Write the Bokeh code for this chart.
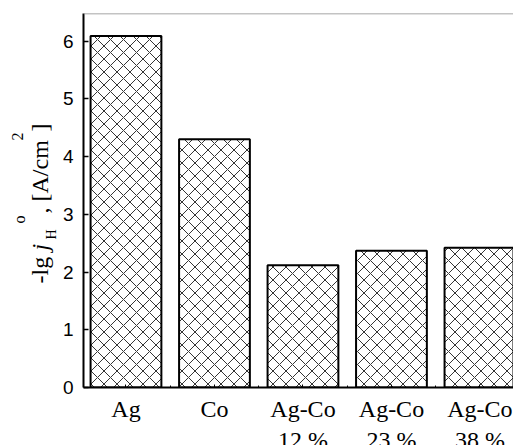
import math
from bokeh.plotting import figure
from bokeh.layouts import row, column
from bokeh.models import Range1d, FixedTicker, Span
from bokeh.core.properties import value
from bokeh.embed import file_html
from bokeh.resources import INLINE

# ---- data ----
categories = ["Ag", "Co", "Ag-Co", "Ag-Co", "Ag-Co"]
subcategories = ["", "", "12 %", "23 %", "38 %"]
values = [6.09, 4.30, 2.12, 2.37, 2.42]
y_ticks = [0, 1, 2, 3, 4, 5, 6]

positions = list(range(len(values)))
SERIF = "Liberation Serif"
SANS = "Liberation Sans"


def bare(fig):
    fig.outline_line_color = None
    fig.xgrid.visible = False
    fig.ygrid.visible = False
    fig.background_fill_color = None
    fig.border_fill_color = None
    return fig


# ---- main chart ----
p = figure(width=455, height=428, output_backend="svg", toolbar_location=None,
           x_range=Range1d(-0.48, 4.379), y_range=Range1d(0, 6.48),
           min_border_left=25, min_border_right=0, min_border_top=13,
           min_border_bottom=41)
p.outline_line_color = None
p.xgrid.visible = False
p.ygrid.visible = False

p.vbar(x=positions, top=values, width=0.8, bottom=0,
       fill_color="white", line_color="black", line_width=2,
       hatch_pattern="x", hatch_scale=13, hatch_weight=1, hatch_color="#333333")

p.add_layout(Span(location=6.48, dimension="width", line_color="#888888", line_width=1.5))

xa = p.xaxis[0]
xa.ticker = FixedTicker(ticks=positions, minor_ticks=[i + 0.5 for i in positions[:-1]])
xa.major_label_overrides = {i: c for i, c in zip(positions, categories)}
xa.major_tick_in = 3
xa.major_tick_out = 0
xa.minor_tick_in = 2
xa.minor_tick_out = 0
xa.axis_line_width = 2
xa.axis_line_color = "black"
xa.major_tick_line_color = "black"
xa.major_label_standoff = 8
xa.major_label_text_font = SERIF
xa.major_label_text_font_size = "24px"
xa.major_label_text_color = "black"

ya = p.yaxis[0]
ya.ticker = FixedTicker(ticks=y_ticks)
ya.major_tick_in = 5
ya.major_tick_out = 0
ya.minor_tick_line_color = None
ya.axis_line_width = 2
ya.axis_line_color = "black"
ya.major_tick_line_width = 1.5
ya.major_label_standoff = 10
ya.major_label_text_font = SANS
ya.major_label_text_font_size = "19px"
ya.major_label_text_color = "black"

# ---- y-axis title strip: -lg j_H^o, [A/cm^2] ----
# the row aligns this strip's frame with the chart's frame (page y 13..387),
# so the y range is expressed in page pixels over that span
t = bare(figure(width=58, height=428, output_backend="svg", toolbar_location=None,
                x_range=Range1d(0, 58), y_range=Range1d(387, 13),
                min_border=0, x_axis_location=None, y_axis_location=None))

BASE_SHIFT = 0.365  # Bokeh places the alphabetic baseline this many em below the anchor


def piece(text, baseline_x, y, size, style="normal"):
    t.text(x=[baseline_x - BASE_SHIFT * size], y=[y], text=[text], angle=math.pi / 2,
           text_align="left", text_baseline="alphabetic",
           text_font=value(SERIF), text_font_size=f"{size}px",
           text_font_style=style, text_color="black")


piece("-lg ", 48, 283, 24)
piece("j", 48, 250, 24, "italic")
piece("H", 56, 239, 14)
piece("o", 25, 223, 16)
piece(", [A/cm", 48, 213, 24)
piece("2", 23, 140, 16)
piece("]", 48, 131, 24)

# ---- second line of category labels ----
b = bare(figure(width=513, height=17, output_backend="svg", toolbar_location=None,
                x_range=p.x_range, y_range=Range1d(17, 0),
                min_border_left=83, min_border_right=0, min_border_top=0,
                min_border_bottom=0, x_axis_location=None, y_axis_location=None))
b.text(x=positions, y=[11.4] * len(positions), text=subcategories,
       text_align="center", text_baseline="middle",
       text_font=value(SERIF), text_font_size="24px", text_color="black")

layout = column(row(t, p), b)
open("out.html", "w").write(file_html(layout, INLINE))
